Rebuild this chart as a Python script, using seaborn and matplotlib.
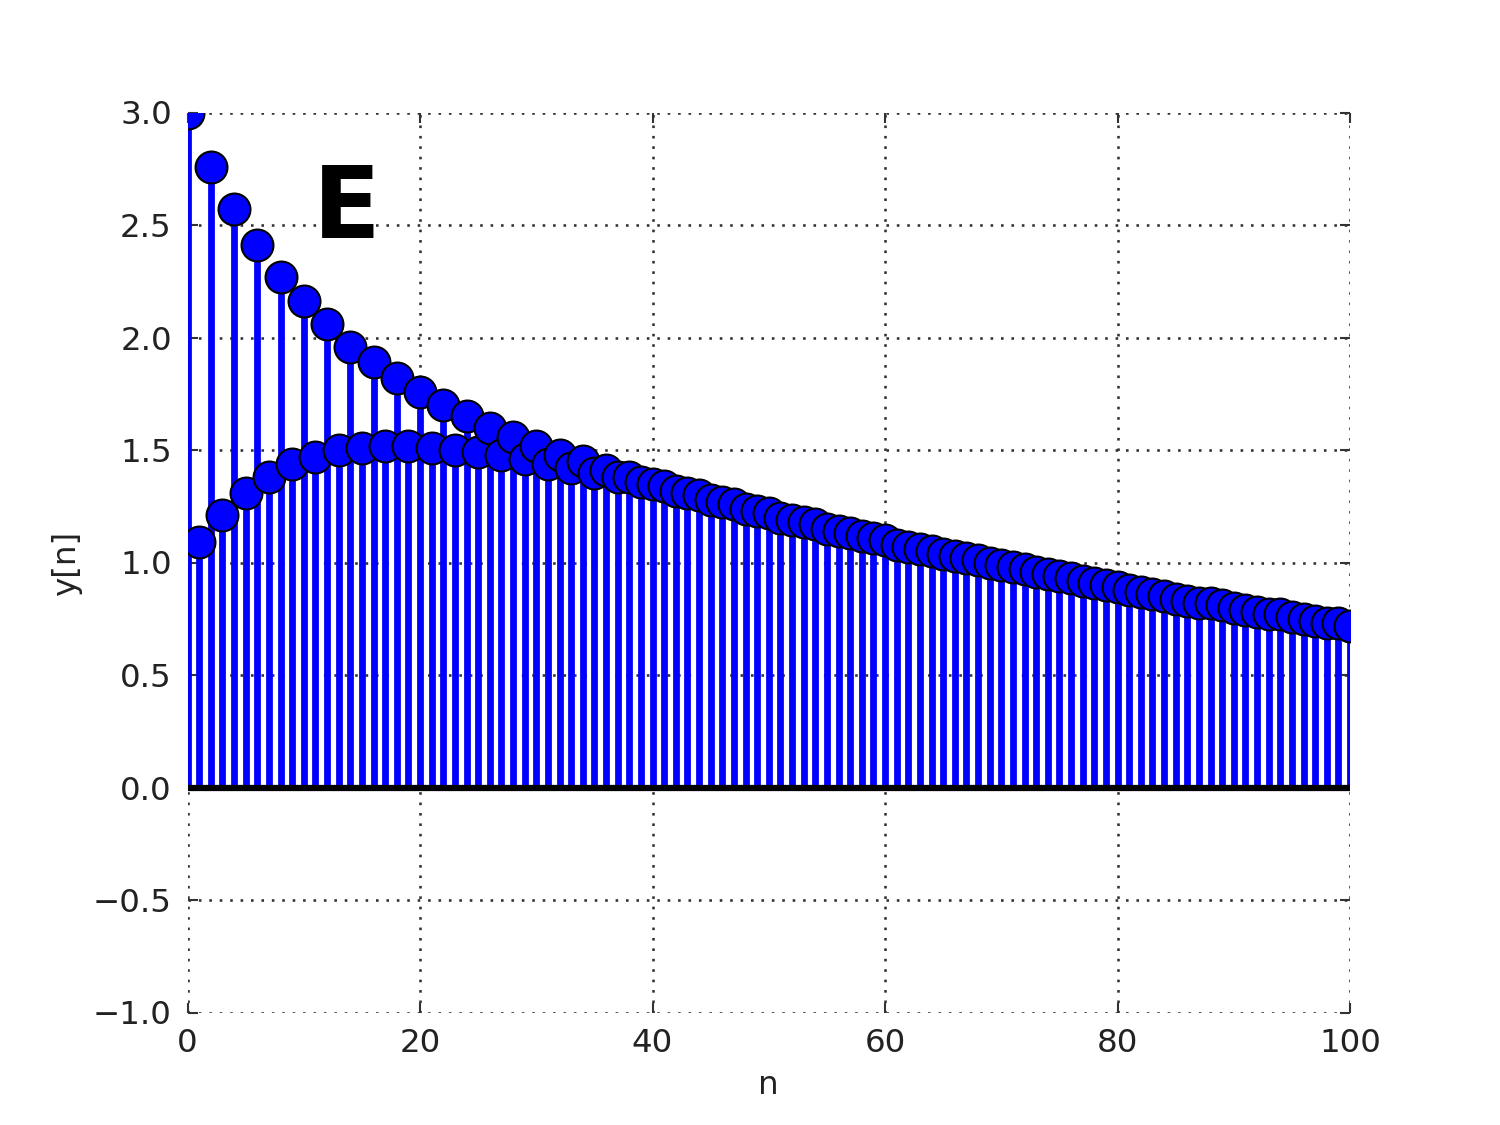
import numpy as np
import pandas as pd
import seaborn as sns
import matplotlib.pyplot as plt

# sample index and response
n = list(range(101))
y = [3.00, 1.09, 2.76, 1.21, 2.57, 1.31, 2.41, 1.38, 2.27, 1.44,
     2.16, 1.47, 2.06, 1.50, 1.96, 1.51, 1.89, 1.52, 1.82, 1.52,
     1.76, 1.51, 1.70, 1.50, 1.65, 1.49, 1.60, 1.48, 1.56, 1.46,
     1.52, 1.44, 1.48, 1.42, 1.45, 1.40, 1.41, 1.38, 1.38, 1.36,
     1.35, 1.34, 1.32, 1.31, 1.30, 1.28, 1.27, 1.26, 1.24, 1.23,
     1.22, 1.20, 1.19, 1.18, 1.17, 1.15, 1.14, 1.13, 1.12, 1.11,
     1.10, 1.08, 1.07, 1.06, 1.05, 1.04, 1.03, 1.02, 1.01, 1.00,
     0.99, 0.98, 0.97, 0.96, 0.95, 0.94, 0.93, 0.92, 0.91, 0.90,
     0.89, 0.88, 0.87, 0.86, 0.85, 0.84, 0.83, 0.82, 0.82, 0.81,
     0.80, 0.79, 0.78, 0.77, 0.77, 0.76, 0.75, 0.74, 0.73, 0.73,
     0.72]
panel_label = "E"

df = pd.DataFrame({"n": n, "y": y})

sns.set_theme(style="white", rc={
    "axes.grid": True,
    "grid.color": "#333333",
    "grid.linestyle": (0, (1, 3)),
    "grid.linewidth": 1.0,
    "xtick.direction": "in",
    "ytick.direction": "in",
    "xtick.top": True,
    "ytick.right": True,
    "xtick.bottom": True,
    "ytick.left": True,
    "xtick.major.size": 4,
    "ytick.major.size": 4,
    "xtick.major.width": 0.8,
    "ytick.major.width": 0.8,
    "xtick.color": "#333333",
    "ytick.color": "#333333",
    "xtick.labelcolor": "#222222",
    "ytick.labelcolor": "#222222",
    "axes.labelcolor": "#222222",
    "text.color": "black",
})
plt.rcParams["font.family"] = ["DejaVu Sans"]

fig, ax = plt.subplots(figsize=(8, 6), dpi=187.5)
fig.subplots_adjust(left=0.125, right=0.9, bottom=0.1, top=0.9)

ax.vlines(df["n"], 0, df["y"], color="#0000ff", linewidth=2.6, zorder=2)
ax.plot([0, 100], [0, 0], color="black", linewidth=2.4, zorder=2)
sns.scatterplot(data=df, x="n", y="y", ax=ax, color="#0000ff", s=150,
                edgecolor="black", linewidth=0.8, zorder=3, legend=False)

ax.set_xlim(0, 100)
ax.set_ylim(-1, 3)
ax.set_xticks(np.arange(0, 101, 20))
ax.set_yticks(np.arange(-1, 3.01, 0.5))
ax.set_yticklabels([f"{v:.1f}".replace("-", "\u2212") for v in np.arange(-1, 3.01, 0.5)])
ax.tick_params(labelsize=12.5, pad=6)
for s in ax.spines.values():
    s.set_visible(False)
ax.set_xlabel("n", fontsize=12.5)
ax.set_ylabel("y[n]", fontsize=12.5)

ax.text(0.108, 0.861, panel_label, transform=ax.transAxes, fontsize=38,
        fontweight="bold", color="black", va="baseline", ha="left")

plt.savefig("out.png")
